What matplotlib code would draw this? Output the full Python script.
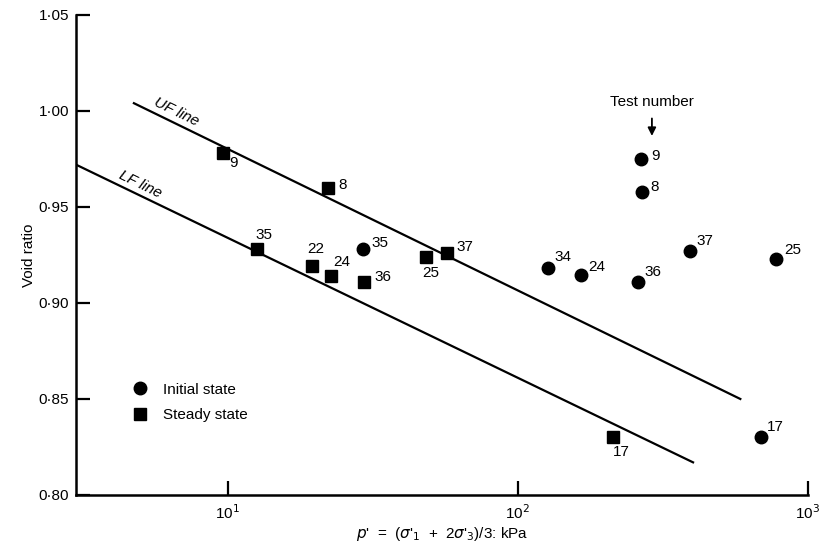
import matplotlib
matplotlib.use("Agg")
import matplotlib.pyplot as plt
from matplotlib.ticker import FixedLocator, FixedFormatter, NullLocator

plt.rcParams['font.family'] = ['Liberation Sans', 'DejaVu Sans']

# Initial state (circles)
init_tests = ['35', '34', '24', '36', '9', '8', '37', '25', '17']
init_p = [29.3, 127, 165, 260, 266, 268, 393, 778, 690]
init_e = [0.928, 0.918, 0.9146, 0.911, 0.975, 0.958, 0.927, 0.923, 0.830]

# Steady state (squares)
steady_tests = ['9', '8', '35', '22', '24', '36', '25', '37', '17']
steady_p = [9.6, 22.2, 12.6, 19.5, 22.7, 29.5, 48.3, 57.1, 213]
steady_e = [0.978, 0.960, 0.928, 0.919, 0.914, 0.911, 0.924, 0.926, 0.830]

# UF / LF lines (end points)
uf_p = [4.75, 585]
uf_e = [1.004, 0.850]
lf_p = [3.0, 402]
lf_e = [0.972, 0.817]

y_ticks = [0.80, 0.85, 0.90, 0.95, 1.00, 1.05]
y_tick_labels = ['0·80', '0·85', '0·90', '0·95', '1·00', '1·05']
x_ticks = [10, 100, 1000]
x_tick_labels = ['10$^1$', '10$^2$', '10$^3$']

# label offsets in pixels (dx, dy) with dy positive = up
init_off = [(17, 6), (15, 11), (16, 8), (15, 10), (14, 3), (13, 5), (15, 10), (17, 9), (14, 10)]
steady_off = [(11, -10), (14, 3), (7, 14), (4, 17), (11, 14), (19, 5), (5, -16), (18, 6), (8, -15)]

FS = 11

fig = plt.figure(figsize=(8.21, 5.5), dpi=100)
ax = fig.add_axes([0.0926, 0.1, 0.8914, 0.873])
ax.set_xscale('log')
ax.set_xlim(3, 1000)
ax.set_ylim(0.80, 1.05)

ax.plot(uf_p, uf_e, color='black', lw=1.6)
ax.plot(lf_p, lf_e, color='black', lw=1.6)

ax.plot(init_p, init_e, 'o', color='black', ms=9, label='Initial state')
ax.plot(steady_p, steady_e, 's', color='black', ms=8, label='Steady state')

for t, p, e, (dx, dy) in zip(init_tests, init_p, init_e, init_off):
    ax.annotate(t, (p, e), xytext=(dx, dy), textcoords='offset pixels',
                ha='center', va='center', fontsize=FS)
for t, p, e, (dx, dy) in zip(steady_tests, steady_p, steady_e, steady_off):
    ax.annotate(t, (p, e), xytext=(dx, dy), textcoords='offset pixels',
                ha='center', va='center', fontsize=FS)

ax.text(6.68, 0.9995, 'UF line', rotation=-26, ha='center', va='center',
        fontsize=FS, style='italic', rotation_mode='anchor')
ax.text(4.99, 0.9615, 'LF line', rotation=-26, ha='center', va='center',
        fontsize=FS, style='italic', rotation_mode='anchor')

ax.annotate('', xy=(290, 0.9855), xytext=(290, 0.9975),
            arrowprops=dict(arrowstyle='-|>', color='black', lw=1.3, mutation_scale=12))
ax.text(290, 1.0047, 'Test number', ha='center', va='center', fontsize=FS)

for s in ['top', 'right']:
    ax.spines[s].set_visible(False)
for s in ['left', 'bottom']:
    ax.spines[s].set_linewidth(1.8)

ax.yaxis.set_major_locator(FixedLocator(y_ticks))
ax.yaxis.set_major_formatter(FixedFormatter(y_tick_labels))
ax.xaxis.set_major_locator(FixedLocator(x_ticks))
ax.xaxis.set_major_formatter(FixedFormatter(x_tick_labels))
ax.xaxis.set_minor_locator(NullLocator())
ax.tick_params(axis='both', direction='in', length=10, width=1.6, labelsize=FS)
ax.tick_params(axis='y', pad=5)
ax.tick_params(axis='x', pad=6)

ax.set_ylabel('Void ratio', fontsize=FS, labelpad=2)
ax.set_xlabel("$p$'  =  ($\\sigma$'$_1$  +  2$\\sigma$'$_3$)/3: kPa", fontsize=FS, labelpad=2)

ax.legend(loc='upper left', bbox_to_anchor=(0.069, 0.247), frameon=False,
          fontsize=FS, handletextpad=1.0, labelspacing=0.75, handlelength=1.0,
          borderaxespad=0)

fig.savefig('out.png', dpi=100)
